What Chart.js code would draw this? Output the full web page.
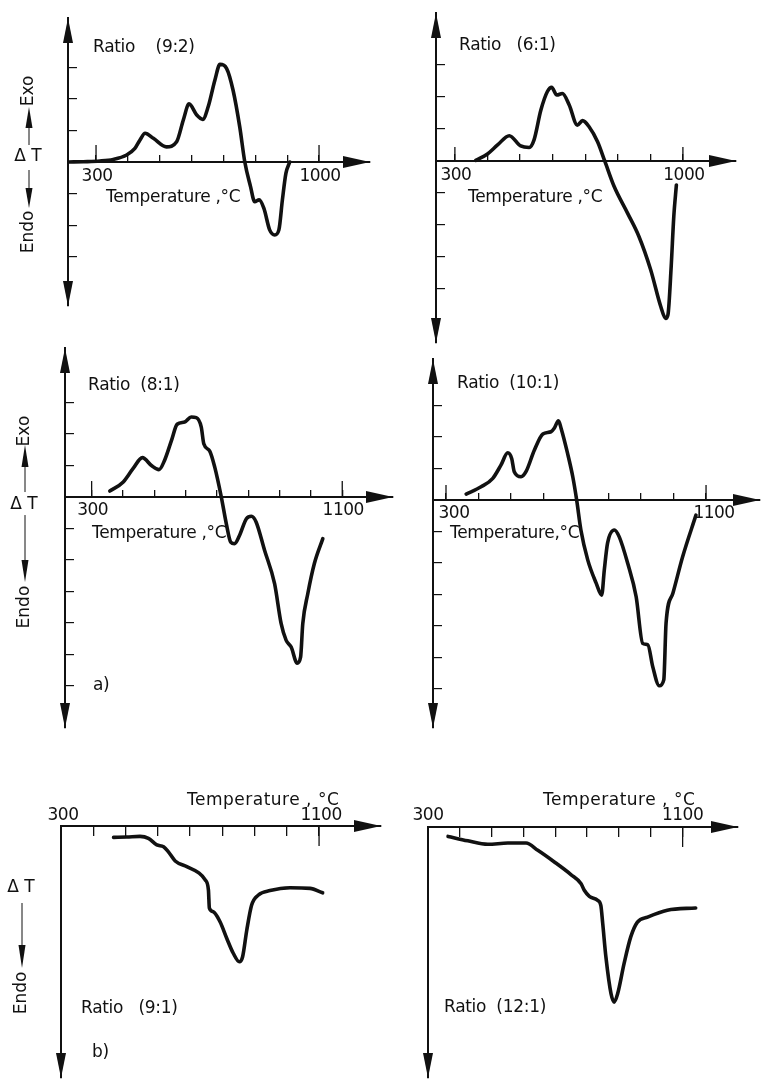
<!DOCTYPE html>
<html><head><meta charset="utf-8">
<script src="https://cdn.jsdelivr.net/npm/chart.js@4/dist/chart.umd.min.js"></script>
<style>
html,body{margin:0;padding:0;background:#fff;}
#wrap{position:relative;width:762px;height:1081px;overflow:hidden;background:#fff;}
#wrap canvas{position:absolute;left:0;top:0;}
</style></head>
<body><div id="wrap"></div>
<script>
// ---------- DATA ----------
// Ratio 9:2
const temp92 = [215, 260, 312, 354, 396, 422, 438, 454, 480, 521, 553, 574, 592, 616, 635, 652, 673, 689, 710, 730, 751, 767, 785, 798, 812, 827, 845, 861, 874, 885, 896, 908];
const dT92   = [0, 0.01, 0.03, 0.08, 0.22, 0.43, 0.70, 0.91, 0.75, 0.48, 0.64, 1.33, 1.84, 1.49, 1.35, 1.75, 2.59, 3.09, 2.96, 2.28, 1.12, 0, -0.78, -1.26, -1.20, -1.47, -2.15, -2.31, -2.15, -1.20, -0.36, 0];
// Ratio 6:1
const temp61 = [364, 400, 431, 467, 502, 528, 543, 564, 584, 597, 613, 630, 651, 676, 692, 712, 738, 760, 789, 830, 865, 901, 932, 947, 954, 964, 972, 980];
const dT61   = [0.02, 0.22, 0.5, 0.79, 0.47, 0.42, 0.66, 1.59, 2.17, 2.3, 2.06, 2.11, 1.75, 1.12, 1.26, 1.07, 0.6, 0, -0.8, -1.63, -2.36, -3.4, -4.55, -4.92, -4.81, -3.3, -1.74, -0.75];
// Ratio 8:1
const temp81 = [358, 401, 432, 462, 491, 515, 533, 555, 573, 597, 618, 634, 650, 658, 677, 693, 714, 730, 744, 756, 772, 794, 810, 825, 852, 884, 905, 921, 937, 956, 967, 974, 990, 1011, 1038];
const dT81   = [0.19, 0.48, 0.9, 1.25, 1.0, 0.87, 1.17, 1.8, 2.31, 2.38, 2.54, 2.52, 2.22, 1.69, 1.46, 0.95, 0, -0.85, -1.43, -1.48, -1.22, -0.69, -0.61, -0.79, -1.69, -2.75, -4.02, -4.55, -4.76, -5.27, -5.08, -4.02, -3.07, -2.11, -1.32];
// Ratio 10:1
const temp101 = [362, 408, 444, 469, 490, 502, 510, 531, 546, 572, 598, 623, 633, 646, 654, 674, 690, 702, 715, 736, 762, 779, 787, 797, 818, 833, 859, 885, 905, 921, 936, 956, 970, 977, 998, 1028, 1069];
const dT101   = [0.19, 0.42, 0.69, 1.11, 1.5, 1.32, 0.9, 0.74, 0.9, 1.59, 2.1, 2.17, 2.28, 2.52, 2.28, 1.48, 0.74, 0, -0.95, -1.9, -2.64, -3.02, -2.22, -1.37, -0.95, -1.17, -2.01, -3.07, -4.55, -4.6, -5.29, -5.9, -5.71, -3.91, -2.96, -1.8, -0.48];
// Ratio 9:1
const temp91 = [463, 504, 545, 571, 597, 618, 633, 654, 690, 726, 747, 757, 760, 772, 793, 814, 834, 853, 863, 876, 891, 912, 948, 1010, 1072, 1111];
const dT91   = [-0.36, -0.35, -0.33, -0.39, -0.6, -0.66, -0.82, -1.11, -1.29, -1.48, -1.71, -2.03, -2.61, -2.72, -3.04, -3.57, -4.04, -4.31, -4.15, -3.3, -2.51, -2.19, -2.05, -1.96, -1.98, -2.12];
// Ratio 12:1
const temp121 = [363, 425, 488, 551, 608, 645, 697, 749, 781, 791, 807, 833, 843, 849, 859, 875, 885, 896, 916, 937, 958, 990, 1052, 1141];
const dT121   = [-0.3, -0.44, -0.55, -0.51, -0.51, -0.74, -1.11, -1.51, -1.8, -2.01, -2.2, -2.33, -2.49, -3.07, -4.13, -5.29, -5.56, -5.29, -4.34, -3.49, -3.02, -2.86, -2.64, -2.57];

// tick values and tick labels
const xTicksTo1000 = [300, 400, 500, 600, 700, 800, 900, 1000];
const xTicksTo1100 = [300, 400, 500, 600, 700, 800, 900, 1000, 1100];
const xTicksB      = [400, 500, 600, 700, 800, 900, 1000, 1100];
const yTicks92  = [-3, -2, -1, 1, 2, 3];
const yTicks61  = [-4, -3, -2, -1, 1, 2, 3];
const yTicksA   = [-6, -5, -4, -3, -2, -1, 1, 2, 3];
const yTicksB   = [];
const tickLabels1000 = [300, 1000];
const tickLabels1100 = [300, 1100];
const longTicks1000 = [300, 1000];
const longTicks1100 = [300, 1100];
const longTicksB = [1100];

// ---------- LAYOUT / STYLE ----------
const FONT = '17px "DejaVu Sans", sans-serif';
const INK = '#111';
const W = 762, H = 1081;

const panels = [
  { t: temp92, v: dT92, xTicks: xTicksTo1000, yTicks: yTicks92,
    xMin: 212, xMax: 1160, yMin: -4.56, yMax: 4.56, area: {l: 68, r: 370, t: 18, b: 306},
    xTickLen: -8, longLen: -17, longTicks: longTicks1000, topArrow: true,
    tickLabels: tickLabels1000, tlDy: 19, tlDx: 1,
    texts: [{s: 'Ratio    (9:2)', dx: 25, dy: -110}, {s: 'Temperature ,°C', dx: 38, dy: 40}],
    side: {dx: -39, exo: -71, upTip: -55, upBase: -34, line1: [-34, -17], dT: -5, line2: [8, 26], downBase: 26, downTip: 46, endo: 70}},
  { t: temp61, v: dT61, xTicks: xTicksTo1000, yTicks: yTicks61,
    xMin: 242, xMax: 1163, yMin: -5.69, yMax: 4.625, area: {l: 436, r: 736, t: 13, b: 343},
    xTickLen: -8, longLen: -14, longTicks: longTicks1000, topArrow: true,
    tickLabels: tickLabels1000, tlDy: 19, tlDx: 1,
    texts: [{s: 'Ratio   (6:1)', dx: 23, dy: -111}, {s: 'Temperature ,°C', dx: 32, dy: 41}],
    side: null},
  { t: temp81, v: dT81, xTicks: xTicksTo1100, yTicks: yTicksA,
    xMin: 215, xMax: 1262, yMin: -7.33, yMax: 4.73, area: {l: 65, r: 393, t: 348, b: 728},
    xTickLen: -8, longLen: -16, longTicks: longTicks1100, topArrow: true,
    tickLabels: tickLabels1100, tlDy: 18, tlDx: 1,
    texts: [{s: 'Ratio  (8:1)', dx: 23, dy: -107}, {s: 'Temperature ,°C', dx: 27, dy: 41}, {s: 'a)', dx: 28, dy: 193}],
    side: {dx: -40, exo: -66, upTip: -52, upBase: -30, line1: [-30, -5], dT: 8, line2: [18, 63], downBase: 63, downTip: 85, endo: 110}},
  { t: temp101, v: dT101, xTicks: xTicksTo1100, yTicks: yTicksA,
    xMin: 260, xMax: 1266, yMin: -7.24, yMax: 4.48, area: {l: 433, r: 760, t: 359, b: 728},
    xTickLen: -8, longLen: -15, longTicks: longTicks1100, topArrow: true,
    tickLabels: tickLabels1100, tlDy: 18, tlDx: 8,
    texts: [{s: 'Ratio  (10:1)', dx: 24, dy: -112}, {s: 'Temperature,°C', dx: 17, dy: 38}],
    side: null},
  { t: temp91, v: dT91, xTicks: xTicksB, yTicks: yTicksB,
    xMin: 300, xMax: 1292, yMin: -8.0, yMax: 0, area: {l: 61, r: 381, t: 826, b: 1078},
    xTickLen: 9, longLen: 20, longTicks: longTicksB, topArrow: false,
    tickLabels: tickLabels1100, tlDy: -6, tlDx: 2,
    texts: [{s: 'Temperature , °C', dx: 126, dy: -21, ls: '0.5px'}, {s: 'Ratio   (9:1)', dx: 20, dy: 187}, {s: 'b)', dx: 31, dy: 231}],
    side: {dx: -39, exo: null, dT: 62, line2: [77, 119], downBase: 119, downTip: 142, endo: 167}},
  { t: temp121, v: dT121, xTicks: xTicksB, yTicks: yTicksB,
    xMin: 300, xMax: 1274, yMin: -7.97, yMax: 0, area: {l: 428, r: 738, t: 827, b: 1078},
    xTickLen: 9, longLen: 20, longTicks: longTicksB, topArrow: false,
    tickLabels: tickLabels1100, tlDy: -7, tlDx: 0,
    texts: [{s: 'Temperature , °C', dx: 115, dy: -22, ls: '0.5px'}, {s: 'Ratio  (12:1)', dx: 16, dy: 185}],
    side: null}
];

function tri(ctx, x, y, dir, len, hw) {
  ctx.beginPath();
  if (dir === 'right') { ctx.moveTo(x, y); ctx.lineTo(x - len, y - hw); ctx.lineTo(x - len, y + hw); }
  else if (dir === 'up') { ctx.moveTo(x, y); ctx.lineTo(x - hw, y + len); ctx.lineTo(x + hw, y + len); }
  else { ctx.moveTo(x, y); ctx.lineTo(x - hw, y - len); ctx.lineTo(x + hw, y - len); }
  ctx.closePath(); ctx.fill();
}

function makeDecor(p) {
  return {
    id: 'decor',
    afterDraw(chart) {
      const ctx = chart.ctx, xs = chart.scales.x, ys = chart.scales.y;
      const ox = xs.getPixelForValue(p.xMin), oy = ys.getPixelForValue(0);
      const right = xs.getPixelForValue(p.xMax);
      const top = ys.getPixelForValue(p.yMax), bot = ys.getPixelForValue(p.yMin);
      ctx.save();
      ctx.fillStyle = INK; ctx.strokeStyle = INK;
      // axis arrowheads
      tri(ctx, right, oy, 'right', 27, 6);
      if (p.topArrow) tri(ctx, ox, top, 'up', 25, 5);
      tri(ctx, ox, bot, 'down', 25, 5);
      // longer tick marks at the labelled temperatures
      ctx.lineWidth = 1.3;
      p.longTicks.forEach(v => {
        const x = xs.getPixelForValue(v);
        ctx.beginPath(); ctx.moveTo(x, oy); ctx.lineTo(x, oy + p.longLen); ctx.stroke();
      });
      // tick labels
      ctx.font = FONT; ctx.textAlign = 'center'; ctx.textBaseline = 'alphabetic';
      ctx.letterSpacing = '-0.5px';
      p.tickLabels.forEach(v => {
        ctx.fillText(String(v), xs.getPixelForValue(v) + p.tlDx, oy + p.tlDy);
      });
      // texts
      ctx.textAlign = 'left';
      p.texts.forEach(tx => {
        ctx.letterSpacing = tx.ls || '-0.3px';
        ctx.fillText(tx.s, ox + tx.dx, oy + tx.dy);
      });
      ctx.letterSpacing = '0px';
      // side ΔT block
      const s = p.side;
      if (s) {
        const cx = ox + s.dx;
        ctx.lineWidth = 1;
        if (s.exo !== null) {
          ctx.save(); ctx.translate(cx, oy + s.exo); ctx.rotate(-Math.PI / 2);
          ctx.textAlign = 'center'; ctx.textBaseline = 'middle'; ctx.fillText('Exo', 0, 0); ctx.restore();
          tri(ctx, cx, oy + s.upTip, 'up', s.upBase - s.upTip, 3.5);
          ctx.beginPath(); ctx.moveTo(cx, oy + s.line1[0]); ctx.lineTo(cx, oy + s.line1[1]); ctx.stroke();
        }
        ctx.textAlign = 'center'; ctx.textBaseline = 'middle';
        ctx.fillText('Δ T', cx - 1, oy + s.dT);
        ctx.beginPath(); ctx.moveTo(cx, oy + s.line2[0]); ctx.lineTo(cx, oy + s.line2[1]); ctx.stroke();
        tri(ctx, cx, oy + s.downTip, 'down', s.downTip - s.downBase, 3.5);
        ctx.save(); ctx.translate(cx, oy + s.endo); ctx.rotate(-Math.PI / 2);
        ctx.fillText('Endo', 0, 0); ctx.restore();
      }
      ctx.restore();
    }
  };
}

const wrap = document.getElementById('wrap');
panels.forEach(p => {
  const cv = document.createElement('canvas');
  cv.width = W; cv.height = H; cv.style.width = W + 'px'; cv.style.height = H + 'px';
  wrap.appendChild(cv);
  const pts = p.t.map((x, i) => ({x: x, y: p.v[i]}));
  new Chart(cv.getContext('2d'), {
    type: 'scatter',
    data: { datasets: [{ data: pts, showLine: true, pointRadius: 0, borderColor: INK, borderWidth: 3.6,
      borderCapStyle: 'round', borderJoinStyle: 'round', cubicInterpolationMode: 'monotone', fill: false }] },
    options: {
      responsive: false, animation: false, events: [],
      layout: { padding: { left: p.area.l, right: W - p.area.r, top: p.area.t, bottom: H - p.area.b } },
      plugins: { legend: { display: false }, tooltip: { enabled: false }, title: { display: false } },
      scales: {
        x: {
          type: 'linear', min: p.xMin, max: p.xMax, position: { y: 0 },
          afterBuildTicks: sc => { sc.ticks = p.xTicks.map(v => ({ value: v })); },
          grid: { display: true, drawOnChartArea: false, drawTicks: true, tickLength: p.xTickLen, color: INK, lineWidth: 1.3 },
          border: { display: true, color: INK, width: 2 },
          ticks: { display: false }
        },
        y: {
          type: 'linear', min: p.yMin, max: p.yMax, position: { x: p.xMin },
          afterBuildTicks: sc => { sc.ticks = p.yTicks.map(v => ({ value: v })); },
          grid: { display: true, drawOnChartArea: false, drawTicks: true, tickLength: -10, color: INK, lineWidth: 1.2 },
          border: { display: true, color: INK, width: 2 },
          ticks: { display: false }
        }
      }
    },
    plugins: [makeDecor(p)]
  });
});
</script>
</body></html>
